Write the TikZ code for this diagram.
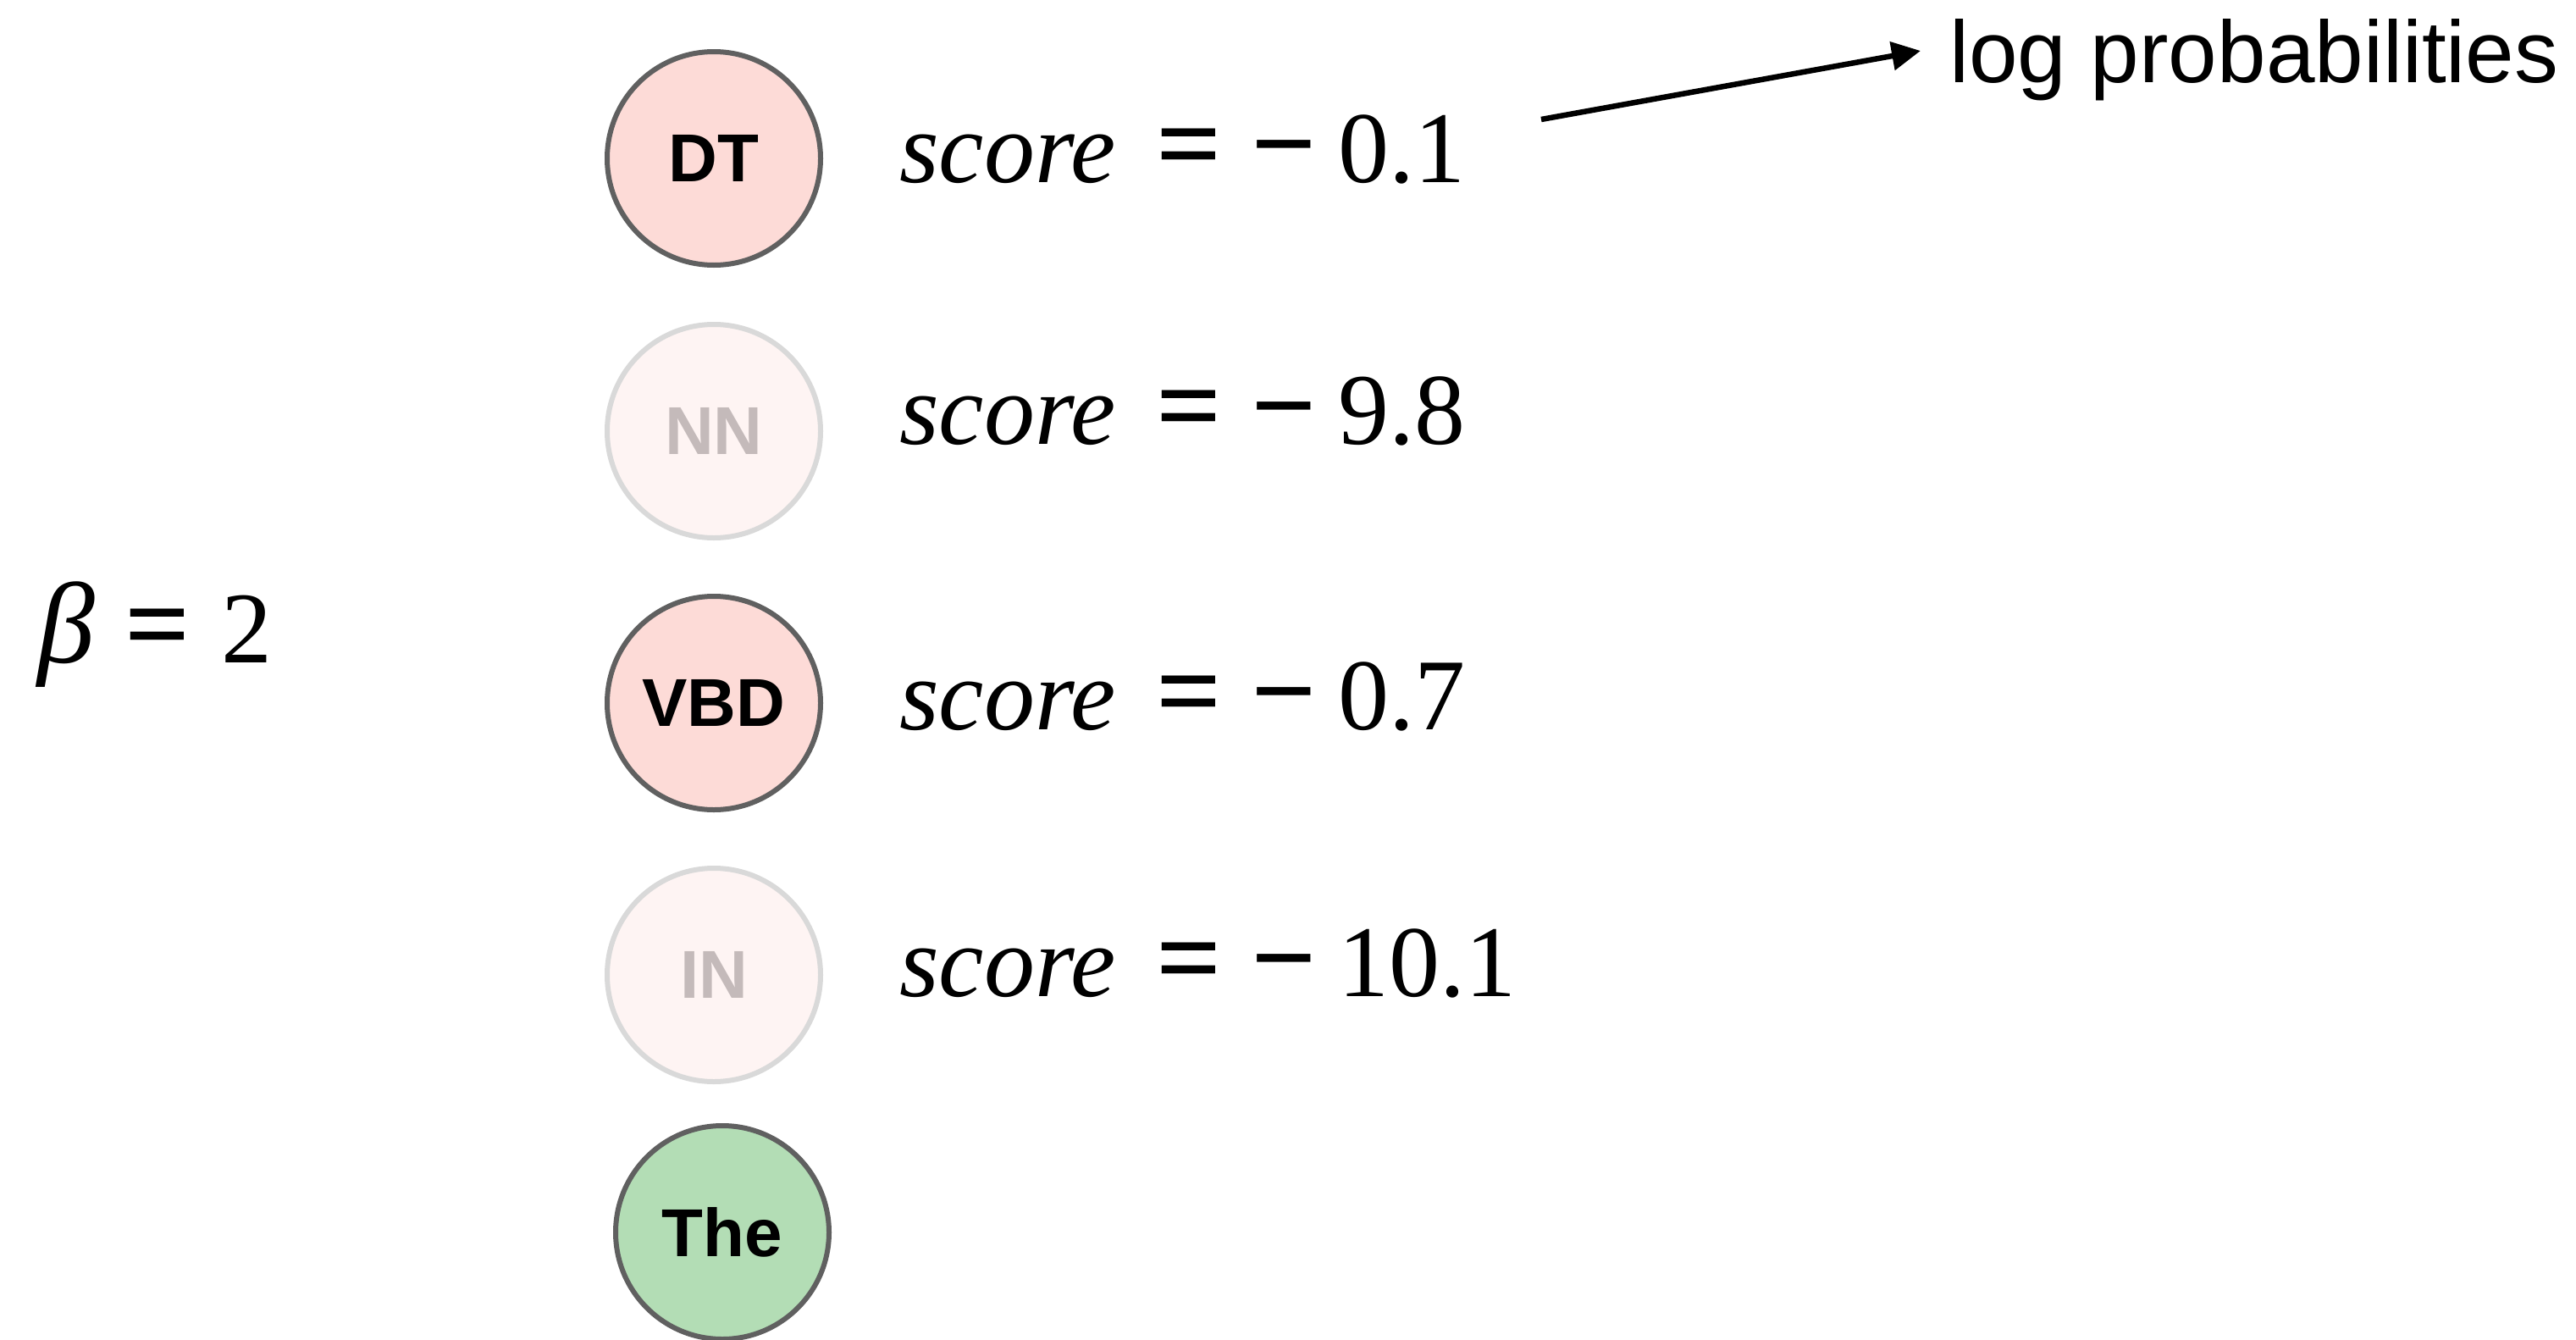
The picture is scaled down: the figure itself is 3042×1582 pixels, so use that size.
\documentclass[tikz,border=0pt]{standalone}
\usepackage{fontspec}
\setmainfont{Liberation Serif}
\newfontfamily\lsans{Liberation Sans}
\usetikzlibrary{arrows.meta}
\definecolor{ringdark}{HTML}{606060}
\definecolor{ringlight}{HTML}{D9D9D9}
\definecolor{pinkfill}{HTML}{FDDBD7}
\definecolor{pinkpale}{HTML}{FEF4F3}
\definecolor{fadedtext}{HTML}{C4BABA}
\definecolor{greenfill}{HTML}{B3DDB5}
\newcommand{\opsym}[1]{{\bfseries\fontsize{136}{140}\selectfont #1}}
\newcommand{\scoreeq}[1]{{\itshape score}\hspace{48pt}\opsym{=}\hspace{34pt}\opsym{\char"2212}\hspace{26pt}#1}
\begin{document}
\begin{tikzpicture}[x=1pt,y=-1pt,
  tag/.style={circle, draw=ringdark, line width=6pt, minimum size=252pt, inner sep=0pt,
    font=\lsans\bfseries\fontsize{80}{90}\selectfont},
  active/.style={tag, fill=pinkfill, text=black},
  faded/.style={tag, draw=ringlight, fill=pinkpale, text=fadedtext},
  chosen/.style={tag, fill=greenfill, text=black},
  eqtext/.style={anchor=base west, inner sep=0pt, font=\fontsize{120}{130}\selectfont},
  notetext/.style={anchor=base west, inner sep=0pt, font=\lsans\fontsize{103.5}{115}\selectfont},
  pointer/.style={line width=6.5pt, -{Triangle[length=34pt,width=33pt]}}
]
\useasboundingbox (0,0) rectangle (3042,1582);
\fill[white] (0,0) rectangle (3042,1582);

% tag circles
\node[active] (dt)  at (843,187)  {DT};
\node[faded]  (nn)  at (843,509)  {NN};
\node[active] (vbd) at (843,830)  {VBD};
\node[faded]  (in)  at (843,1151) {IN};
\node[chosen] (the) at (853,1455) {The};

% scores
\node[eqtext] (s1) at (1062,215)  {\scoreeq{0.1}};
\node[eqtext] (s2) at (1062,524)  {\scoreeq{9.8}};
\node[eqtext] (s3) at (1062,861)  {\scoreeq{0.7}};
\node[eqtext] (s4) at (1062,1176) {\scoreeq{10.1}};

% beta
\node[eqtext] (beta) at (44,782) {{\itshape\fontsize{136}{140}\selectfont β}\hspace{36pt}\opsym{=}\hspace{36pt}2};

% log probabilities
\node[notetext] (logp) at (2302,97) {log probabilities};
\coordinate (astart) at (1820,141);
\coordinate (atip) at (2268,60);
\draw[pointer] (astart) -- (atip);
\end{tikzpicture}
\end{document}
